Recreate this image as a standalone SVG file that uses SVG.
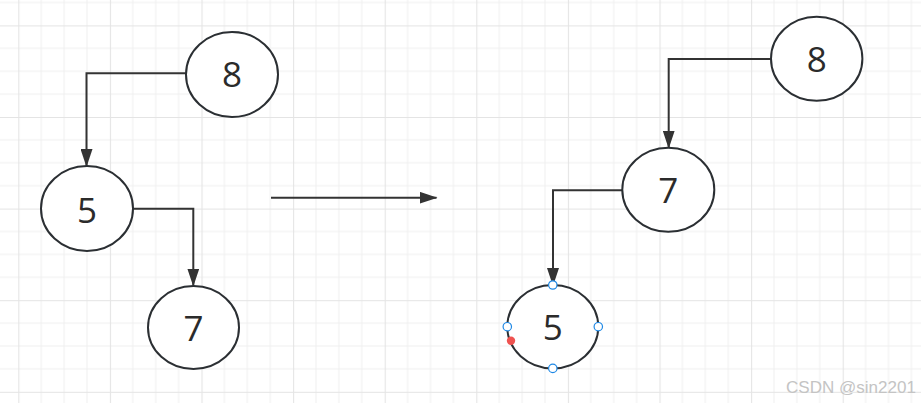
<svg xmlns="http://www.w3.org/2000/svg" width="921" height="403" viewBox="0 0 921 403">
<style>
.node ellipse{fill:#ffffff;stroke:#2b2f33;stroke-width:2}
.node text{font-family:"Open Sans","Liberation Sans",sans-serif;font-size:35px;fill:#2b2b2b;text-anchor:middle;dominant-baseline:central}
.edge{fill:none;stroke:#333333;stroke-width:2}
.handle{fill:#ffffff;stroke:#1e88e5;stroke-width:1.2}
.wm{font-family:"Liberation Sans",Arial,sans-serif;font-size:17px;fill:#c4c4c4}
</style>
<defs>
<pattern id="grid" x="18.3" y="25.4" width="91.6" height="91.6" patternUnits="userSpaceOnUse">
<path d="M22.9 0V91.6M45.8 0V91.6M68.7 0V91.6M0 22.9H91.6M0 45.8H91.6M0 68.7H91.6" stroke="#f0f0f0" stroke-width="1" fill="none"/>
<path d="M0.5 0V91.6M0 0.5H91.6" stroke="#e4e4e4" stroke-width="1.2" fill="none"/>
</pattern>
<marker id="arr" markerWidth="18" markerHeight="12" refX="17" refY="6" orient="auto" markerUnits="userSpaceOnUse">
<path d="M0 0L18 6L0 12Z" fill="#333333"/>
</marker>
</defs>
<rect width="921" height="403" fill="#ffffff"/>
<rect width="921" height="403" fill="url(#grid)"/>
<g id="connectors">
<path class="edge" d="M186 73.3H86.5V166" marker-end="url(#arr)"/>
<path class="edge" d="M133 208.7H193.3V285.5" marker-end="url(#arr)"/>
<path class="edge" d="M271 197.7H436.5" marker-end="url(#arr)"/>
<path class="edge" d="M771 59H668.7V147.7" marker-end="url(#arr)"/>
<path class="edge" d="M622.3 190.3H553V285" marker-end="url(#arr)"/>
</g>
<g id="node-left-8" class="node">
<ellipse cx="232" cy="74.5" rx="46" ry="42.5"/>
<text x="232" y="73">8</text>
</g>
<g id="node-left-5" class="node">
<ellipse cx="87" cy="208.5" rx="46" ry="42.5"/>
<text x="87" y="209">5</text>
</g>
<g id="node-left-7" class="node">
<ellipse cx="193.5" cy="327.5" rx="45.5" ry="41.5"/>
<text x="193.5" y="327.5">7</text>
</g>
<g id="node-right-8" class="node">
<ellipse cx="816.7" cy="58.7" rx="45.7" ry="42"/>
<text x="816.7" y="58.5">8</text>
</g>
<g id="node-right-7" class="node">
<ellipse cx="668.3" cy="189.7" rx="46" ry="42"/>
<text x="668.3" y="189.5">7</text>
</g>
<g id="node-right-5" class="node">
<ellipse cx="552.8" cy="326.7" rx="45.5" ry="41.7"/>
<text x="552.8" y="326.5">5</text>
<circle class="handle" cx="552.8" cy="285" r="4.2"/>
<circle class="handle" cx="507.3" cy="326.7" r="4.2"/>
<circle class="handle" cx="598.3" cy="326.7" r="4.2"/>
<circle class="handle" cx="552.8" cy="368.4" r="4.2"/>
<circle cx="511" cy="340.7" r="4.2" fill="#ef5350"/>
</g>
<text class="wm" x="786" y="392.5" textLength="130" lengthAdjust="spacingAndGlyphs">CSDN @sin2201</text>
</svg>
